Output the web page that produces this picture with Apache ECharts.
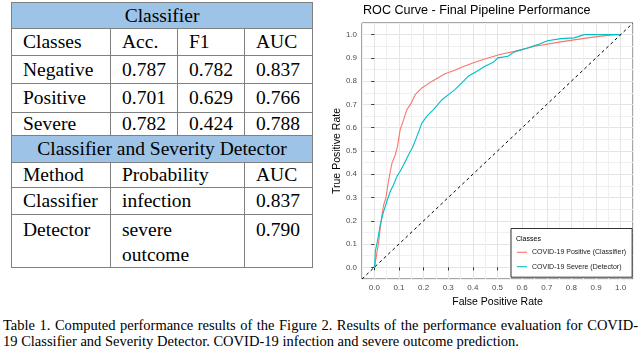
<!DOCTYPE html>
<html>
<head>
<meta charset="utf-8">
<script src="https://cdn.jsdelivr.net/npm/echarts@6/dist/echarts.min.js"></script>
<style>
  *{margin:0;padding:0;}
  body{width:640px;height:350px;background:#fff;position:relative;overflow:hidden;}
  #tbl{position:absolute;left:11px;top:2px;width:301px;border-collapse:collapse;table-layout:fixed;
       font-family:"Liberation Serif";font-size:19.5px;color:#000;}
  #tbl td{border:1px solid #808080;padding:0 0 0 11px;white-space:nowrap;overflow:hidden;line-height:22px;}
  #tbl td.head{background:#9dc3e6;text-align:center;padding:0;}
  #tbl td.top{vertical-align:top;line-height:25px;padding-top:2px;}
  #main{position:absolute;left:320px;top:0;width:320px;height:310px;}
  .cap{position:absolute;left:3px;font-family:"Liberation Serif";font-size:15px;line-height:16.5px;white-space:nowrap;transform-origin:0 0;}
</style>
</head>
<body>
<table id="tbl">
  <colgroup><col style="width:99px"><col style="width:67px"><col style="width:67px"><col style="width:68px"></colgroup>
  <tbody id="tb"></tbody>
</table>
<div id="main"></div>
<div class="cap" id="cap1" style="top:316.5px"></div>
<div class="cap" id="cap2" style="top:333px"></div>
<script type="text/javascript">
// table values
var classHeaders = ['Classes', 'Acc.', 'F1', 'AUC'];
var classNames = ['Negative', 'Positive', 'Severe'];
var accuracy = [0.787, 0.701, 0.782];
var f1Score = [0.782, 0.629, 0.424];
var aucClass = [0.837, 0.766, 0.788];
var methodHeaders = ['Method', 'Probability', 'AUC'];
var methods = ['Classifier', 'Detector'];
var probability = ['infection', 'severe<br>outcome'];
var aucMethod = [0.837, 0.790];

// ROC curves [fpr, tpr]
var classifierRoc = [
  [0, 0], [0.007, 0.04], [0.018, 0.112], [0.024, 0.169], [0.031, 0.226], [0.038, 0.269],
  [0.047, 0.298], [0.055, 0.355], [0.065, 0.413], [0.072, 0.449], [0.085, 0.484], [0.094, 0.52],
  [0.105, 0.592], [0.119, 0.635], [0.132, 0.678], [0.146, 0.699], [0.166, 0.742], [0.193, 0.771],
  [0.233, 0.799], [0.287, 0.832], [0.327, 0.847], [0.354, 0.86], [0.408, 0.881], [0.462, 0.9],
  [0.509, 0.915], [0.569, 0.928], [0.65, 0.95], [0.757, 0.969], [0.865, 0.986], [0.973, 1.0], [1, 1]
];
var detectorRoc = [
  [0, 0], [0.002, 0.012], [0.004, 0.069], [0.015, 0.126], [0.024, 0.183], [0.038, 0.241],
  [0.051, 0.284], [0.065, 0.327], [0.078, 0.355], [0.092, 0.391], [0.105, 0.413], [0.119, 0.441],
  [0.139, 0.484], [0.155, 0.515], [0.173, 0.563], [0.193, 0.62], [0.213, 0.649], [0.24, 0.678],
  [0.274, 0.72], [0.301, 0.742], [0.327, 0.764], [0.354, 0.792], [0.381, 0.821], [0.415, 0.842],
  [0.449, 0.864], [0.483, 0.881], [0.501, 0.9], [0.542, 0.907], [0.569, 0.926], [0.622, 0.943],
  [0.663, 0.957], [0.703, 0.974], [0.757, 0.983], [0.811, 0.986], [0.852, 1.0], [1, 1]
];
var diagonal = [[-0.05, -0.05], [1.05, 1.05]];
var majorTicks = [0, 0.1, 0.2, 0.3, 0.4, 0.5, 0.6, 0.7, 0.8, 0.9, 1.0];
var seriesNames = ['COVID-19 Positive (Classifier)', 'COVID-19 Severe (Detector)'];

var caption1 = 'Table 1. Computed performance results of the Figure 2. Results of the performance evaluation for COVID-';
var caption2 = '19 Classifier and Severity Detector. COVID-19 infection and severe outcome prediction.';

// build the table
var tb = document.getElementById('tb');
function addRow(h, cells) {
  var tr = document.createElement('tr');
  tr.style.height = h + 'px';
  cells.forEach(function (c) {
    var td = document.createElement('td');
    td.innerHTML = c.t;
    if (c.cls) td.className = c.cls;
    if (c.span) td.colSpan = c.span;
    tr.appendChild(td);
  });
  tb.appendChild(tr);
}
var rowH = [27, 28, 29, 23];
addRow(26, [{t: 'Classifier', cls: 'head', span: 4}]);
addRow(rowH[0], classHeaders.map(function (s) { return {t: s}; }));
classNames.forEach(function (n, i) {
  addRow(rowH[i + 1], [{t: n}, {t: accuracy[i].toFixed(3)}, {t: f1Score[i].toFixed(3)}, {t: aucClass[i].toFixed(3)}]);
});
addRow(27, [{t: 'Classifier and Severity Detector', cls: 'head', span: 4}]);
addRow(25, [{t: methodHeaders[0]}, {t: methodHeaders[1], span: 2}, {t: methodHeaders[2]}]);
addRow(27, [{t: methods[0]}, {t: probability[0], span: 2}, {t: aucMethod[0].toFixed(3)}]);
addRow(52, [{t: methods[1], cls: 'top'}, {t: probability[1], span: 2, cls: 'top'}, {t: aucMethod[1].toFixed(3), cls: 'top'}]);

// caption: squeeze to the original width, first line justified
var c1 = document.getElementById('cap1'), c2 = document.getElementById('cap2');
c1.textContent = caption1;
c2.textContent = caption2;
var sx = 516 / c2.getBoundingClientRect().width;
var w1 = c1.getBoundingClientRect().width;
var spaces = caption1.split(' ').length - 1;
c1.style.wordSpacing = ((635 / sx - w1) / spaces) + 'px';
c1.style.transform = 'scaleX(' + sx + ')';
c2.style.transform = 'scaleX(' + sx + ')';

// chart
var font = 'Liberation Sans';
function tickFmt(v) {
  var k = Math.round(v * 100);
  return (k % 10 === 0 && k >= 0 && k <= 100) ? (k / 100).toFixed(1) : '';
}
var axisBase = {
  type: 'value', min: -0.05, max: 1.05, interval: 0.05,
  nameLocation: 'middle', nameMoveOverlap: false,
  nameTextStyle: {fontSize: 10.5, color: '#000', fontFamily: font},
  axisLine: {show: false},
  axisTick: {show: false},
  axisLabel: {formatter: tickFmt, fontSize: 8, color: '#4d4d4d', margin: 5, fontFamily: font},
  splitLine: {lineStyle: {color: ['#f0f0f0', '#e4e4e4'], width: 1}}
};
// extra axes that only carry the major tick marks
var tickAxis = {
  type: 'value', min: -0.05, max: 1.05,
  axisLine: {show: false}, axisLabel: {show: false}, splitLine: {show: false},
  axisTick: {show: true, length: 3, customValues: majorTicks, lineStyle: {color: '#333', width: 1}}
};
var myChart = echarts.init(document.getElementById('main'));
myChart.setOption({
  animation: false,
  textStyle: {fontFamily: font},
  title: [
    {text: 'ROC Curve - Final Pipeline Performance', left: 43, top: 4, padding: 0,
     textStyle: {fontSize: 12.6, fontWeight: 'normal', color: '#000', fontFamily: font}},
    {text: 'Classes', left: 196, top: 236, padding: 0,
     textStyle: {fontSize: 7, fontWeight: 'normal', color: '#000', fontFamily: font}}
  ],
  grid: {left: 42, top: 23, width: 271, height: 256, show: true, outerBoundsMode: 'none',
         borderColor: '#4d4d4d', borderWidth: 1, backgroundColor: '#fff'},
  xAxis: [
    Object.assign({}, axisBase, {name: 'False Positive Rate', nameGap: 18}),
    Object.assign({}, tickAxis, {position: 'bottom'})
  ],
  yAxis: [
    Object.assign({}, axisBase, {name: 'True Positive Rate', nameGap: 19}),
    Object.assign({}, tickAxis, {position: 'left'})
  ],
  legend: {
    left: 191, top: 228.5, orient: 'vertical',
    padding: [20.3, 6, 7, 6], itemGap: 7.4, itemWidth: 10, itemHeight: 7,
    icon: 'path://M0,0H10V1.1H0Z',
    backgroundColor: '#fff', borderColor: '#333', borderWidth: 1, borderRadius: 0,
    textStyle: {fontSize: 7, color: '#1a1a1a', fontFamily: font},
    data: seriesNames
  },
  series: [
    {name: seriesNames[0], type: 'line', data: classifierRoc, symbol: 'none', z: 3,
     lineStyle: {color: '#F8766D', width: 1.1}, itemStyle: {color: '#F8766D'}},
    {name: seriesNames[1], type: 'line', data: detectorRoc, symbol: 'none', z: 4,
     lineStyle: {color: '#00BFC4', width: 1.1}, itemStyle: {color: '#00BFC4'}},
    {name: 'diagonal', type: 'line', data: diagonal, symbol: 'none', z: 5, silent: true,
     lineStyle: {color: '#000', width: 1, type: [3, 3]}}
  ]
});
</script>
</body>
</html>
